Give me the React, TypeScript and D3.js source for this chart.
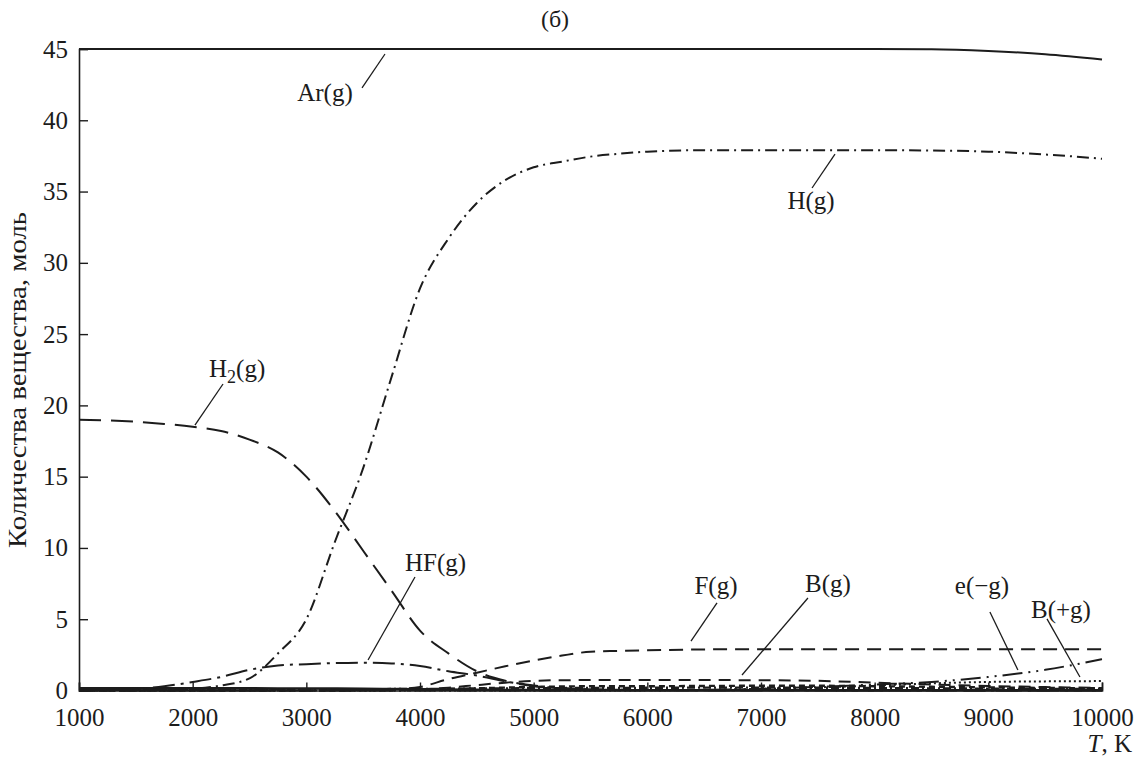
import React, { useEffect, useRef } from 'react';
import * as d3 from 'd3';

// temperature grid, K
const temps = [1000, 1250, 1500, 1750, 2000, 2250, 2500, 2750, 3000, 3250, 3500, 3750, 4000, 4250, 4500, 4750, 5000, 5250, 5500, 5750, 6000, 6500, 7000, 7500, 8000, 8500, 9000, 9500, 10000];

// amounts, mol
const arG = [45, 45, 45, 45, 45, 45, 45, 45, 45, 45, 45, 45, 45, 45, 45, 45, 45, 45, 45, 45, 45, 45, 45, 45, 45, 44.98, 44.86, 44.64, 44.27];
const hG = [0, 0.01, 0.02, 0.05, 0.12, 0.35, 0.85, 2.6, 5.0, 10.4, 15.6, 22.0, 28.2, 31.7, 34.2, 35.8, 36.7, 37.1, 37.45, 37.65, 37.8, 37.9, 37.9, 37.9, 37.9, 37.88, 37.8, 37.6, 37.3];
const h2G = [19.0, 18.95, 18.85, 18.7, 18.5, 18.2, 17.6, 16.7, 15.0, 12.6, 9.8, 7.0, 4.2, 2.6, 1.35, 0.68, 0.35, 0.15, 0.08, 0.05, 0.03, 0.02, 0.01, 0.01, 0, 0, 0, 0, 0];
const hfG = [0.02, 0.05, 0.12, 0.3, 0.6, 0.95, 1.45, 1.75, 1.85, 1.92, 1.95, 1.9, 1.72, 1.35, 1.05, 0.65, 0.3, 0.15, 0.08, 0.05, 0.03, 0.02, 0.01, 0.01, 0, 0, 0, 0, 0];
const fG = [0, 0, 0, 0, 0, 0, 0, 0, 0, 0.01, 0.02, 0.08, 0.25, 0.8, 1.25, 1.7, 2.1, 2.45, 2.72, 2.78, 2.82, 2.88, 2.9, 2.9, 2.9, 2.9, 2.9, 2.9, 2.9];
const bG = [0, 0, 0, 0, 0, 0, 0, 0, 0, 0, 0.01, 0.03, 0.08, 0.2, 0.38, 0.55, 0.68, 0.72, 0.73, 0.73, 0.73, 0.73, 0.72, 0.68, 0.55, 0.42, 0.32, 0.24, 0.18];
const eMinusG = [0, 0, 0, 0, 0, 0, 0, 0, 0, 0, 0, 0, 0, 0, 0, 0, 0, 0, 0.01, 0.01, 0.02, 0.05, 0.12, 0.25, 0.42, 0.6, 0.95, 1.45, 2.2];
const bPlusG = [0, 0, 0, 0, 0, 0, 0, 0, 0, 0, 0, 0, 0, 0, 0, 0, 0, 0, 0, 0, 0.01, 0.05, 0.12, 0.22, 0.35, 0.5, 0.6, 0.64, 0.66];
// unlabeled minor species crowding the bottom
const minorA = [0.15, 0.15, 0.15, 0.15, 0.15, 0.15, 0.15, 0.14, 0.14, 0.13, 0.12, 0.1, 0.08, 0.06, 0.05, 0.04, 0.03, 0.02, 0.02, 0.02, 0.02, 0.02, 0.02, 0.02, 0.02, 0.02, 0.02, 0.02, 0.02];
const minorB = [0, 0, 0, 0, 0, 0, 0, 0, 0, 0, 0.01, 0.02, 0.05, 0.1, 0.15, 0.2, 0.25, 0.28, 0.3, 0.3, 0.3, 0.32, 0.33, 0.33, 0.3, 0.26, 0.22, 0.18, 0.15];
const minorC = [0.05, 0.05, 0.05, 0.05, 0.06, 0.06, 0.07, 0.07, 0.08, 0.08, 0.09, 0.1, 0.1, 0.12, 0.14, 0.15, 0.16, 0.17, 0.18, 0.18, 0.19, 0.2, 0.2, 0.19, 0.17, 0.15, 0.13, 0.11, 0.1];

const xTicks = [1000, 2000, 3000, 4000, 5000, 6000, 7000, 8000, 9000, 10000];
const yTicks = [0, 5, 10, 15, 20, 25, 30, 35, 40, 45];

const series = [
  { key: 'minorA', values: minorA, dash: null, width: 2.6 },
  { key: 'minorB', values: minorB, dash: '6,4', width: 2.4 },
  { key: 'minorC', values: minorC, dash: '8,3,2,3', width: 2.4 },
  { key: 'Ar(g)', values: arG, dash: null, width: 2 },
  { key: 'H(g)', values: hG, dash: '12,5,2,5', width: 2 },
  { key: 'H2(g)', values: h2G, dash: '22,10', width: 2 },
  { key: 'HF(g)', values: hfG, dash: '22,6,3,6', width: 2 },
  { key: 'F(g)', values: fG, dash: '14,8', width: 2 },
  { key: 'B(g)', values: bG, dash: '12,8', width: 2 },
  { key: 'e(-g)', values: eMinusG, dash: '20,6,2,6,2,6', width: 2 },
  { key: 'B(+g)', values: bPlusG, dash: '2,3', width: 2 },
];

// label anchor [T, value] and leader line ends in data units
const labels = [
  { text: 'Ar(g)', at: [3164, 41.35], anchor: 'middle', from: [3490, 42.27], to: [3692, 44.65] },
  { text: 'H(g)', at: [7440, 33.8], anchor: 'middle', from: [7449, 35.25], to: [7651, 37.63] },
  { text: 'H2(g)', at: [2144, 22.0], anchor: 'start', from: [2020, 18.62], to: [2267, 21.5] },
  { text: 'HF(g)', at: [3868, 8.38], anchor: 'start', from: [3956, 7.96], to: [3543, 2.14] },
  { text: 'F(g)', at: [6604, 6.77], anchor: 'middle', from: [6613, 6.14], to: [6384, 3.47] },
  { text: 'B(g)', at: [7589, 6.91], anchor: 'middle', from: [7413, 6.49], to: [6833, 1.09] },
  { text: 'e(\u2212g)', at: [8944, 6.77], anchor: 'middle', from: [9014, 5.51], to: [9260, 1.44] },
  { text: 'B(+g)', at: [9639, 5.09], anchor: 'middle', from: [9516, 5.02], to: [9806, 0.95] },
];

const W = 1140;
const H = 758;
const ink = '#1c1c1c';
const font = '"Liberation Serif", "Times New Roman", serif';

function Chart() {
  const ref = useRef<SVGSVGElement>(null);

  useEffect(() => {
    const svg = d3.select(ref.current);
    svg.selectAll('*').remove();

    const x = d3.scaleLinear().domain([1000, 10000]).range([79, 1102]);
    const y = d3.scaleLinear().domain([0, 45]).range([690.5, 49]);

    // axes: ticks point inward
    const xAxis = svg.append('g')
      .attr('transform', `translate(0,${y(0)})`)
      .call(d3.axisBottom(x).tickValues(xTicks).tickSize(-8).tickPadding(18).tickFormat(d3.format('d')));
    const yAxis = svg.append('g')
      .attr('transform', `translate(${x(1000)},0)`)
      .call(d3.axisLeft(y).tickValues(yTicks).tickSize(-9).tickPadding(11).tickFormat(d3.format('d')));

    [xAxis, yAxis].forEach(a => {
      a.select('.domain').attr('stroke', ink).attr('stroke-width', 1.6);
      a.selectAll('.tick line').attr('stroke', ink).attr('stroke-width', 1.4);
      a.selectAll('.tick text').attr('fill', ink).attr('font-size', 25).attr('font-family', font);
    });

    const line = d3.line<number>()
      .x((d, i) => x(temps[i]))
      .y(d => y(d))
      .curve(d3.curveMonotoneX);

    svg.append('g')
      .selectAll('path')
      .data(series)
      .enter().append('path')
      .attr('d', s => line(s.values))
      .attr('fill', 'none')
      .attr('stroke', ink)
      .attr('stroke-width', s => s.width)
      .attr('stroke-dasharray', s => s.dash);

    // leader lines + labels
    const ann = svg.append('g');
    labels.forEach(l => {
      ann.append('line')
        .attr('x1', x(l.from[0])).attr('y1', y(l.from[1]))
        .attr('x2', x(l.to[0])).attr('y2', y(l.to[1]))
        .attr('stroke', ink).attr('stroke-width', 1.3);
      const t = ann.append('text')
        .attr('x', x(l.at[0])).attr('y', y(l.at[1]))
        .attr('text-anchor', l.anchor)
        .attr('font-size', 25).attr('font-family', font).attr('fill', ink);
      if (l.text === 'H2(g)') {
        t.append('tspan').text('H');
        t.append('tspan').attr('font-size', 18).attr('dy', 6).text('2');
        t.append('tspan').attr('dy', -6).text('(g)');
      } else {
        t.text(l.text);
      }
    });

    svg.append('text')
      .attr('x', 555).attr('y', 27)
      .attr('text-anchor', 'middle')
      .attr('font-size', 24).attr('font-family', font).attr('fill', ink)
      .text('(б)');

    const xl = svg.append('text')
      .attr('x', 1132).attr('y', 752)
      .attr('text-anchor', 'end')
      .attr('font-size', 25).attr('font-family', font).attr('fill', ink);
    xl.append('tspan').attr('font-style', 'italic').text('T');
    xl.append('tspan').text(', K');

    svg.append('text')
      .attr('transform', `translate(26,${380}) rotate(-90)`)
      .attr('text-anchor', 'middle')
      .attr('font-size', 25).attr('font-family', font).attr('fill', ink)
      .attr('textLength', 336).attr('lengthAdjust', 'spacingAndGlyphs')
      .text('Количества вещества, моль');
  }, []);

  return <svg ref={ref} width={W} height={H} style={{ position: 'absolute', left: 0, top: 0, background: '#fff' }} />;
}

export default function App() {
  return <Chart />;
}
